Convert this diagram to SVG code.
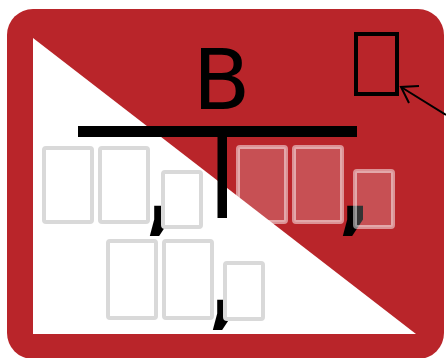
<svg xmlns="http://www.w3.org/2000/svg" width="446" height="358" viewBox="0 0 446 358">
<style>
.tofu{fill:#ffffff;stroke:#d9d9d9;stroke-width:4}
.tofuR{fill:#ffffff;fill-opacity:0.2;stroke:#ffffff;stroke-opacity:0.5;stroke-width:4}
.cm{font-family:"DejaVu Sans",sans-serif;font-size:90px;font-weight:bold;fill:#000}
</style>
<rect x="7" y="9" width="437" height="350" rx="26" fill="#b9252a"/>
<polygon points="33,38 33,334 416,334" fill="#ffffff"/>
<g id="title">
<text x="221.5" y="109" text-anchor="middle" font-family="DejaVu Sans, sans-serif" font-size="84" fill="#000">B</text>
</g>
<g id="connectors">
<rect x="78" y="126" width="279" height="11" fill="#000"/>
<rect x="217.5" y="136" width="9.5" height="82" fill="#000"/>
<line x1="446" y1="115" x2="401" y2="87" stroke="#000" stroke-width="2"/>
<polyline points="419,86 401,87 409,103" fill="none" stroke="#000" stroke-width="2"/>
</g>
<g id="node-top-right">
<rect x="356" y="34" width="41" height="60" fill="none" stroke="#000" stroke-width="4"/>
</g>
<g id="node-left">
<rect class="tofu" x="44" y="148" width="48" height="74" rx="2"/>
<rect class="tofu" x="100" y="148" width="48" height="74" rx="2"/>
<text class="cm" x="145" y="223">,</text>
<rect class="tofu" x="163" y="172" width="38" height="55" rx="2"/>
</g>
<g id="node-right">
<rect class="tofuR" x="238" y="147" width="48" height="75" rx="2"/>
<rect class="tofuR" x="294" y="147" width="48" height="75" rx="2"/>
<text class="cm" x="338" y="223">,</text>
<rect class="tofuR" x="355" y="171" width="38" height="56" rx="2"/>
</g>
<g id="node-bottom">
<rect class="tofu" x="108" y="241" width="48" height="77" rx="2"/>
<rect class="tofu" x="164" y="241" width="48" height="77" rx="2"/>
<text class="cm" x="208" y="317">,</text>
<rect class="tofu" x="225" y="263" width="38" height="56" rx="2"/>
</g>
</svg>
